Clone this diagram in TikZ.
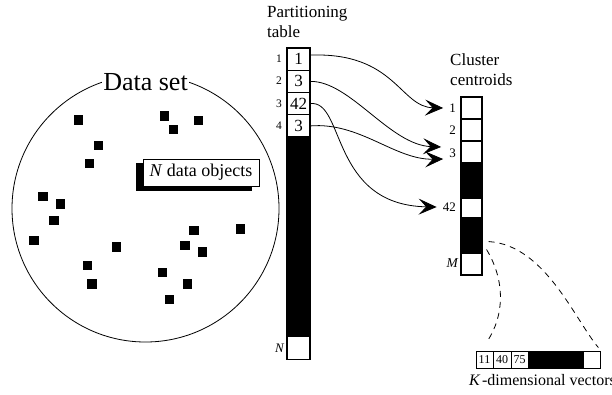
\documentclass[tikz,border=0pt]{standalone}
\usepackage{fontspec}
\setmainfont{Liberation Serif}
\usetikzlibrary{arrows.meta,backgrounds}
\begin{document}
\begin{tikzpicture}[x=1pt,y=-1pt,
  pcell/.style={draw, line width=1.1pt, fill=white, inner sep=0pt, minimum width=23pt, minimum height=22.25pt, font=\fontsize{17}{17}\selectfont},
  ccell/.style={draw, line width=1.1pt, fill=white, inner sep=0pt, minimum width=21pt, minimum height=22pt},
  vcell/.style={draw, line width=0.8pt, fill=white, inner sep=0pt, minimum height=17pt, font=\fontsize{12}{12}\selectfont},
  blk/.style={draw, line width=1.1pt, fill=black, inner sep=0pt},
  idx/.style={inner sep=0pt, anchor=east, font=\fontsize{11.5}{11.5}\selectfont},
  clbl/.style={inner sep=0pt, anchor=east, font=\fontsize{13}{13}\selectfont},
  dot/.style={fill=black, inner sep=0pt, minimum size=9.5pt},
  title/.style={inner sep=0pt, anchor=north west, align=left, font=\fontsize{17}{20}\selectfont},
  arr/.style={line width=0.8pt, -{Stealth[length=18pt,width=16pt,inset=7.5pt]}},
  dsh/.style={line width=0.8pt, dash pattern=on 6pt off 5pt},
]
\useasboundingbox (0,0) rectangle (612,394);
\begin{pgfonlayer}{background}
\fill[white] (0,0) rectangle (612,394);
\end{pgfonlayer}

% data set
\draw[line width=0.8pt] (145.5,208.5) circle[radius=133.5];
\node[fill=white, inner sep=1pt, anchor=base, font=\fontsize{26}{26}\selectfont] (ds) at (145.5,90) {Data set};
\foreach \x/\y [count=\i] in {78.7/120, 164.7/116, 173.7/129.3, 198.7/120.3, 98.3/145.3, 89.3/163.3, 43/196.7, 60.7/204, 54/220.3, 34/240.7, 116.3/247, 194/230.7, 240.3/229, 185/245.7, 202.7/252, 87.3/265.3, 92/284, 162.7/272.3, 187.3/284, 169.3/299.7}
  \node[dot] (d\i) at (\x,\y) {};
\node[draw, line width=0.8pt, fill=white, inner sep=0pt, minimum width=116pt, minimum height=27pt, font=\fontsize{18}{18}\selectfont] (nd) at (201,172.5) {\textit{N} data objects};
\begin{pgfonlayer}{background}
\fill ([xshift=-7pt,yshift=-4.5pt]nd.south west) rectangle ([xshift=-7pt,yshift=-4.5pt]nd.north east);
\end{pgfonlayer}

% partitioning table
\node[title] (pt) at (267,6) {Partitioning\\table};
\node[pcell] (p1) at (298.5,59.1) {1};
\node[pcell] (p2) at (298.5,81.4) {3};
\node[pcell] (p3) at (298.5,103.6) {42};
\node[pcell] (p4) at (298.5,125.9) {3};
\node[blk, minimum width=23pt, minimum height=200pt] (pb) at (298.5,237) {};
\node[pcell] (pn) at (298.5,348) {};
\node[idx] (i1) at (282,59) {1};
\node[idx] (i2) at (282,81) {2};
\node[idx] (i3) at (282,103.6) {3};
\node[idx] (i4) at (282,125.9) {4};
\node[idx, font=\fontsize{13}{13}\selectfont\itshape] (iN) at (284,348) {N};

% cluster centroids
\node[title] (cc) at (450,54) {Cluster\\centroids};
\node[ccell] (c1) at (471.5,108) {};
\node[ccell] (c2) at (471.5,130) {};
\node[ccell] (c3) at (471.5,152) {};
\node[blk, minimum width=21pt, minimum height=35pt] (cb1) at (471.5,180.5) {};
\node[ccell, minimum height=20pt] (c42) at (471.5,208) {};
\node[blk, minimum width=21pt, minimum height=35pt] (cb2) at (471.5,235.5) {};
\node[ccell] (cM) at (471.5,264) {};
\node[clbl] (l1) at (456,108) {1};
\node[clbl] (l2) at (456,130) {2};
\node[clbl] (l3) at (456,153) {3};
\node[clbl] (l42) at (456,207) {42};
\node[clbl, font=\fontsize{13.5}{13.5}\selectfont\itshape] (lM) at (458,263) {M};

% arrows
\draw[arr] ([yshift=4pt]p1.east) .. controls (395,52) and (400,107) .. ([xshift=-6pt]l1.west);
\draw[arr] (p2.east) .. controls (350,81) and (390,145) .. ([xshift=-8pt,yshift=6pt]l3.west);
\draw[arr] (p3.east) .. controls (345,100) and (330,205) .. ([xshift=-6pt]l42.west);
\draw[arr] (p4.east) .. controls (360,122) and (395,160) .. ([xshift=-6pt,yshift=-6pt]l3.west);

% K-dimensional vector
\node[vcell, minimum width=17pt] (v1) at (484.5,359.5) {11};
\node[vcell, minimum width=18pt] (v2) at (502,359.5) {40};
\node[vcell, minimum width=17pt] (v3) at (519.5,359.5) {75};
\node[blk, line width=0.8pt, minimum width=55pt, minimum height=17pt] (v4) at (555.5,359.5) {};
\node[vcell, minimum width=17pt] (v5) at (591.5,359.5) {};
\node[inner sep=0pt, anchor=base west, font=\fontsize{16}{16}\selectfont] (kv) at (469,385) {\textit{K}\kern1.5pt-dimensional vectors};

\draw[dsh] ([xshift=4pt,yshift=4pt]cb2.south east) .. controls (505,280) and (505,315) .. ([xshift=2.5pt,yshift=9pt]v1.north);
\draw[dsh] ([xshift=6pt,yshift=12pt]cb2.south east) .. controls (545,245) and (575,320) .. ([xshift=-2pt,yshift=3pt]v5.north east);
\end{tikzpicture}
\end{document}
